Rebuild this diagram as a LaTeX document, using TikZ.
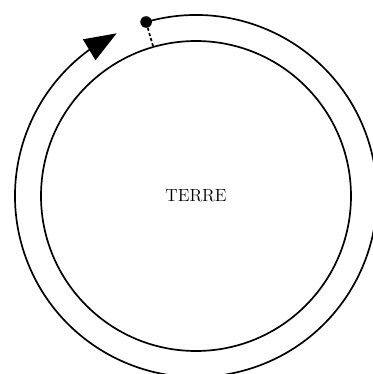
\documentclass[tikz,border=0pt]{standalone}
\usepackage{tikz}
\usetikzlibrary{arrows.meta,bending}

\begin{document}
\begin{tikzpicture}[
  earth/.style={circle, draw=black, line width=1.2pt, minimum size=7.75cm,
    inner sep=0pt, font=\fontsize{12.5}{15}\selectfont},
  satdot/.style={circle, fill=black, minimum size=2.9mm, inner sep=0pt},
  orbit/.style={line width=1.2pt,
    -{Triangle[length=8mm,width=6mm,flex]}},
  radial/.style={line width=1.2pt, dash pattern=on 2.2pt off 1.6pt},
]

\def\rorbit{4.525}

\clip (-4.9,-4.45) rectangle (4.425,4.9);

% === Earth ===
\node[earth] (terre) at (0,0) {TERRE};

% === Satellite ===
\node[satdot] (sat) at (106:\rorbit) {};
\draw[radial] (sat) -- (terre.106);

% === Orbit ===
\draw[orbit] (sat.center) arc[start angle=106, end angle=-244, radius=\rorbit];

\end{tikzpicture}
\end{document}
